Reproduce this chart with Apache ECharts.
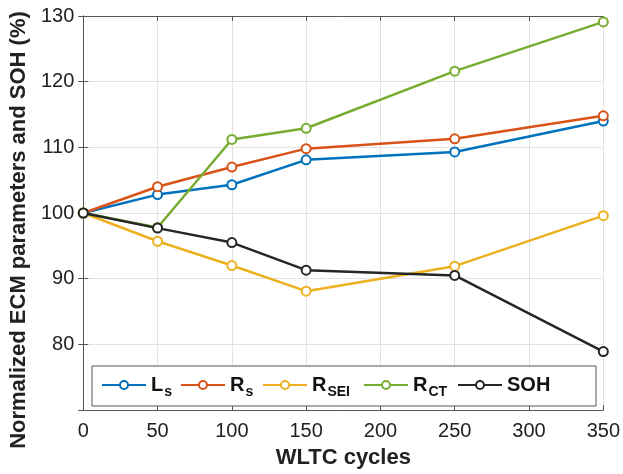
<!DOCTYPE html>
<html>
<head>
<meta charset="utf-8">
<script src="https://cdn.jsdelivr.net/npm/echarts@6/dist/echarts.min.js"></script>
<style>
html, body { margin: 0; padding: 0; background: #fff; }
#EChart { width: 623px; height: 474px; }
</style>
</head>
<body>
<div id="EChart"></div>
<script>
// WLTC cycles
const cycles = [0, 50, 100, 150, 250, 350];
const seriesNames = ['Ls', 'Rs', 'RSEI', 'RCT', 'SOH'];
const lsVals   = [100, 102.8, 104.3, 108.1, 109.3, 114.0];
const rsVals   = [100, 104.0, 107.0, 109.8, 111.3, 114.8];
const rseiVals = [100, 95.7, 92.0, 88.1, 91.9, 99.6];
const rctVals  = [100, 97.8, 111.2, 112.9, 121.6, 129.1];
const sohVals  = [100, 97.7, 95.5, 91.3, 90.5, 78.9];
const colors = ['#0072BD', '#D95319', '#EDB120', '#77AC30', '#262626'];

const font = 'Liberation Sans, Arial, sans-serif';

// legend labels with subscripts
const legendText = {
    Ls: '{b|L}{sub|s}',
    Rs: '{b|R}{sub|s}',
    RSEI: '{b|R}{sub|SEI}',
    RCT: '{b|R}{sub|CT}',
    SOH: '{b|SOH}'
};
// left edge of each legend entry (px)
const legendLeft = [101, 180, 262, 363, 457];

function pairs(vals) {
    return cycles.map((c, i) => [c, vals[i]]);
}

const allVals = [lsVals, rsVals, rseiVals, rctVals, sohVals];

const series = seriesNames.map((name, i) => ({
    name: name,
    type: 'line',
    data: pairs(allVals[i]),
    symbol: 'circle',
    symbolSize: 9,
    showSymbol: true,
    lineStyle: { color: colors[i], width: 2.5 },
    itemStyle: { color: '#fff', borderColor: colors[i], borderWidth: 2 },
    z: 2 + i
}));

const legends = seriesNames.map((name, i) => ({
    left: legendLeft[i], top: 375, z: 60,
    padding: 0,
    itemWidth: 44, itemHeight: 10,
    data: [name],
    formatter: n => legendText[n],
    textStyle: {
        fontFamily: font, color: '#111',
        rich: {
            b: { fontFamily: font, fontWeight: 'bold', fontSize: 20, color: '#111' },
            sub: { fontFamily: font, fontWeight: 'bold', fontSize: 14, color: '#111', padding: [14, 0, 0, 1] }
        }
    }
}));

const axisGray = '#555';

const config = {
    animation: false,
    grid: { left: 83, right: 19, top: 16, bottom: 63 },
    xAxis: [{
        type: 'value', min: 0, max: 350, interval: 50,
        name: 'WLTC cycles', nameLocation: 'middle', nameGap: 37,
        nameTextStyle: { fontFamily: font, fontWeight: 'bold', fontSize: 22, color: '#222' },
        axisLine: { lineStyle: { color: axisGray, width: 1 } },
        axisTick: { inside: true, length: 5, lineStyle: { color: axisGray } },
        axisLabel: { fontFamily: font, fontSize: 20, color: '#222', margin: 11 },
        splitLine: { show: true, lineStyle: { color: '#e3e3e3', width: 1 } }
    }, {
        type: 'value', min: 0, max: 350, interval: 50, position: 'top',
        axisLine: { show: true, lineStyle: { color: axisGray, width: 1 } },
        axisTick: { show: true, inside: true, length: 5, lineStyle: { color: axisGray } },
        axisLabel: { show: false }, splitLine: { show: false }
    }],
    yAxis: [{
        type: 'value', min: 70, max: 130, interval: 10,
        name: 'Normalized ECM parameters and SOH (%)', nameLocation: 'middle', nameGap: 48,
        nameTextStyle: { fontFamily: font, fontWeight: 'bold', fontSize: 22, color: '#222', padding: [0, 34, 0, 0] },
        axisLine: { show: true, lineStyle: { color: axisGray, width: 1 } },
        axisTick: { show: true, inside: true, length: 5, lineStyle: { color: axisGray } },
        axisLabel: { fontFamily: font, fontSize: 20, color: '#222', margin: 9, showMinLabel: false },
        splitLine: { show: true, lineStyle: { color: '#e3e3e3', width: 1 } }
    }, {
        type: 'value', min: 70, max: 130, interval: 10, position: 'right',
        axisLine: { show: true, lineStyle: { color: axisGray, width: 1 } },
        axisTick: { show: true, inside: true, length: 5, lineStyle: { color: axisGray } },
        axisLabel: { show: false }, splitLine: { show: false }
    }],
    graphic: [{
        type: 'rect',
        shape: { x: 92, y: 366, width: 504, height: 40 },
        style: { fill: '#fff', stroke: '#555', lineWidth: 1 },
        z: 50
    }],
    legend: legends,
    series: series
};

const EChart = echarts.init(document.getElementById('EChart'));
EChart.setOption(config);
</script>
</body>
</html>
